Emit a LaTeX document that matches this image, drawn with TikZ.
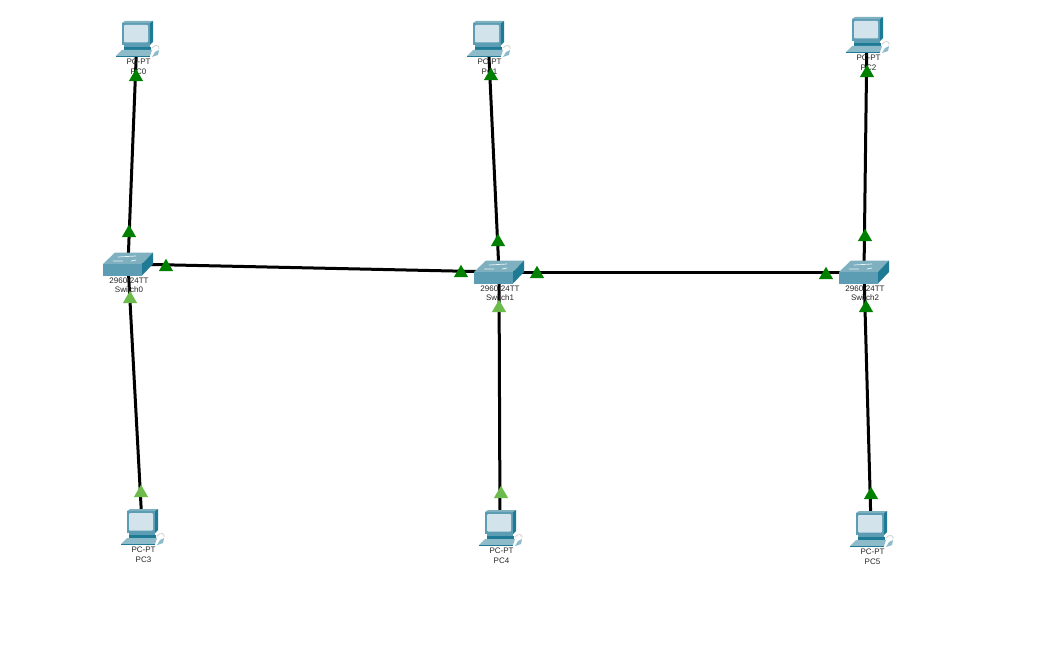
\documentclass[tikz,border=0pt]{standalone}
\usepackage{fontspec}
\setmainfont{Liberation Sans}
\usetikzlibrary{positioning,shapes.geometric}
\definecolor{bodyblue}{HTML}{5C9DB3}
\definecolor{sideblue}{HTML}{1F7B95}
\definecolor{topblue}{HTML}{7FB0C0}
\definecolor{screenblue}{HTML}{D3E3EB}
\definecolor{keyblue}{HTML}{8DBBC9}
\definecolor{linkdark}{HTML}{008000}
\definecolor{linklight}{HTML}{6CBB4C}
\tikzset{
  pcicon/.pic={
    \fill[topblue] (-15,-13) -- (-12,-15) -- (16,-15) -- (13,-13) -- cycle;
    \fill[sideblue] (13,-13) -- (16,-15) -- (16,6) -- (13,9) -- cycle;
    \fill[bodyblue] (-15,-13) rectangle (13,9);
    \fill[screenblue,rounded corners=1] (-13,-11) rectangle (11,6.5);
    \fill[bodyblue] (-13,9) rectangle (13,11);
    \fill[sideblue] (-13,11) rectangle (14,14);
    \fill[keyblue] (-21,20) -- (-15,14) -- (15,14) -- (13,20) -- cycle;
    \fill[sideblue] (-21,20) rectangle (13,21);
    \draw[gray!35,line width=0.8] (15,12) .. controls (18,8) and (23,9) .. (22,13);
    \fill[keyblue] (15,21) -- (18,16) -- (22,14) -- (21,19) -- cycle;
  },
  swicon/.pic={
    \fill[topblue] (-25,0) -- (-13,-11.5) -- (25,-11.5) -- (14,0) -- cycle;
    \fill[bodyblue] (-25,0) rectangle (14,11.5);
    \fill[sideblue] (14,0) -- (25,-11.5) -- (25,0) -- (14,11.5) -- cycle;
    \draw[white!85!topblue,line width=0.7] (-10,-7) -- (8,-8) (-15,-3) -- (-5,-3) (3,-3) -- (8,-4);
  }
}
\begin{document}
\begin{tikzpicture}[
    x=1pt,y=-1pt,
    device/.style={inner sep=0,minimum size=0},
    link/.style={draw=black,line width=3},
    devlabel/.style={font=\fontsize{8}{8}\selectfont,inner sep=0,text=black!85},
    tri/.style={regular polygon,regular polygon sides=3,inner sep=0,minimum size=16.5,yshift=-2pt}
  ]
  \useasboundingbox[fill=white] (0,0) rectangle (1044,647);

  \foreach \n/\x/\y in {PC0/137/36,PC1/488/36,PC2/867/32,PC3/142/524,PC4/500/525,PC5/871/526,
      Switch0/128/264,Switch1/499/272,Switch2/864/272}
    \node[device] (\n) at (\x,\y) {};

  \draw[link] (PC0) -- (Switch0);
  \draw[link] (PC1) -- (Switch1);
  \draw[link] (PC2) -- (Switch2);
  \draw[link] (PC3) -- (Switch0);
  \draw[link] (PC4) -- (Switch1);
  \draw[link] (PC5) -- (Switch2);
  \draw[link] (Switch0) -- (Switch1);
  \draw[link] (Switch1) -- (Switch2);

  \foreach \n in {PC0,PC1,PC2,PC3,PC4,PC5} {
    \pic at (\n) {pcicon};
    \node[devlabel] (\n top) at ([shift={(1.5,25.5)}]\n) {PC-PT};
    \node[devlabel] (\n name) at ([shift={(1.5,35.5)}]\n) {\n};
  }
  \foreach \n in {Switch0,Switch1,Switch2} {
    \pic at (\n) {swicon};
    \node[devlabel] (\n top) at ([shift={(1,17)}]\n) {2960-24TT};
    \node[devlabel] (\n name) at ([shift={(1,26)}]\n) {\n};
  }

  \foreach \n/\x/\y in {a/136/75,b/129/231,c/166/265,d/461/271,e/498/240,f/537/272,
      g/826/273,h/865/235,i/491/74,j/867/71,k/866/306,l/871/493}
    \node[tri,fill=linkdark] (tri\n) at (\x,\y) {};
  \foreach \n/\x/\y in {m/130/297,o/141/491,p/499/306,q/501/492}
    \node[tri,fill=linklight] (tri\n) at (\x,\y) {};
\end{tikzpicture}
\end{document}
